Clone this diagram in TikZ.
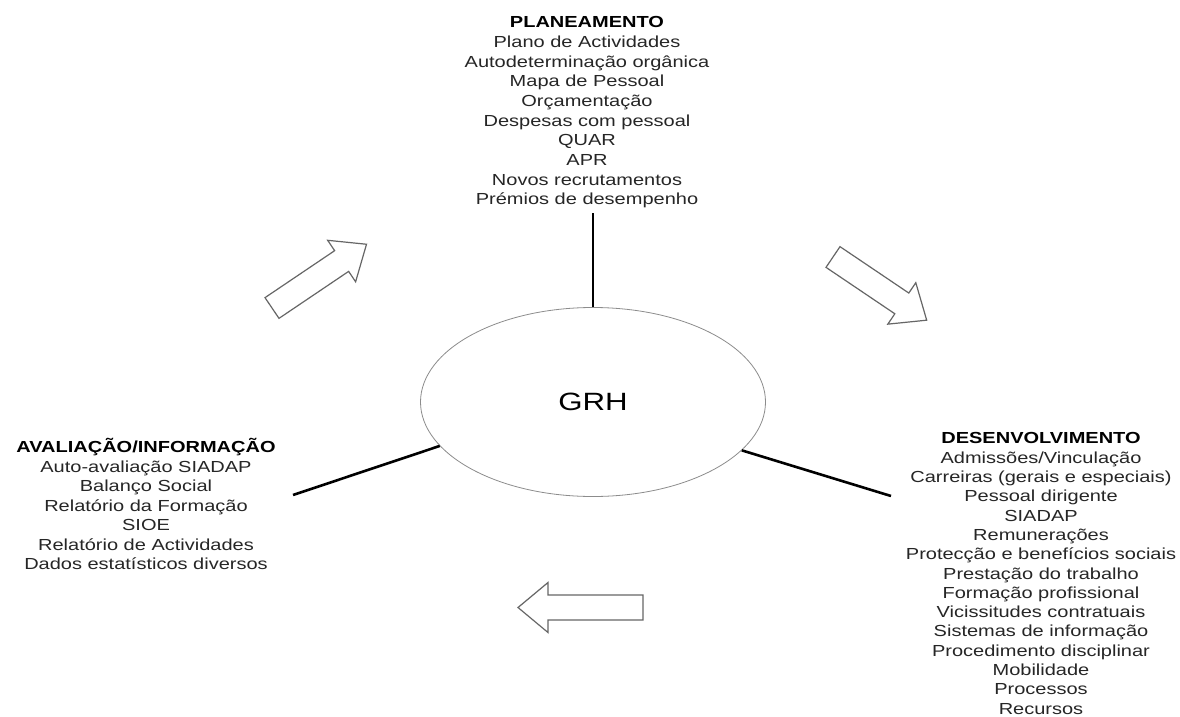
\documentclass[tikz,border=0pt]{standalone}
\usepackage{fontspec}
\newfontfamily\arial[FakeStretch=1.25]{Liberation Sans}
\usetikzlibrary{shapes.geometric}
\newcommand\myblockarrow[3]{%
  \begin{scope}[shift={(#1)},rotate=#2]
    \draw[blockarr] (0,-12.5) -- ({#3-30},-12.5) -- ({#3-30},-25) -- (#3,0)
      -- ({#3-30},25) -- ({#3-30},12.5) -- (0,12.5) -- cycle;
  \end{scope}}
\begin{document}
\begin{tikzpicture}[x=1pt,y=-1pt,
  blockarr/.style={draw=black!60,line width=1.2pt,fill=white,line join=miter},
  conn/.style={draw=black,line width=2.6pt},
  txtblock/.style={align=center,inner sep=0pt,anchor=north,text=black!85}]
\path[use as bounding box,fill=white] (0,0) rectangle (1180,717);

% central ellipse
\node[ellipse,draw=black!45,line width=0.8pt,minimum width=345pt,minimum height=189pt,
  inner sep=0pt,font=\arial\fontsize{25}{30}\selectfont] (grh) at (593,402) {GRH};

% text blocks
\node[txtblock,font=\arial\fontsize{16}{19.65}\selectfont] (plan) at (587,12.75)
 {\rule{0pt}{15pt}\textcolor{black}{\textbf{PLANEAMENTO}}\\
  Plano de Actividades\\
  Autodeterminação orgânica\\
  Mapa de Pessoal\\
  Orçamentação\\
  Despesas com pessoal\\
  QUAR\\
  APR\\
  Novos recrutamentos\\
  Prémios de desempenho};

\node[txtblock,font=\arial\fontsize{16}{19.5}\selectfont] (aval) at (146,437.75)
 {\rule{0pt}{15pt}\textcolor{black}{\textbf{AVALIAÇÃO/INFORMAÇÃO}}\\
  Auto-avaliação SIADAP\\
  Balanço Social\\
  Relatório da Formação\\
  SIOE\\
  Relatório de Actividades\\
  Dados estatísticos diversos};

\node[txtblock,font=\arial\fontsize{16}{19.3}\selectfont] (desen) at (1041,428.75)
 {\rule{0pt}{15pt}\textcolor{black}{\textbf{DESENVOLVIMENTO}}\\
  Admissões/Vinculação\\
  Carreiras (gerais e especiais)\\
  Pessoal dirigente\\
  SIADAP\\
  Remunerações\\
  Protecção e benefícios sociais\\
  Prestação do trabalho\\
  Formação profissional\\
  Vicissitudes contratuais\\
  Sistemas de informação\\
  Procedimento disciplinar\\
  Mobilidade\\
  Processos\\
  Recursos};

% connectors
\coordinate (ptop) at (593,213);
\coordinate (lend) at (293,495);
\coordinate (rend) at (891,496);
\draw[conn] (ptop) -- (grh.north);
\draw[conn] (lend) -- (grh.196.9);
\draw[conn] (rend) -- (grh.342.6);

% block arrows
\myblockarrow{272,308}{34}{114}
\myblockarrow{833,257}{-34}{113}
\myblockarrow{643,607.5}{180}{125}
\end{tikzpicture}
\end{document}
